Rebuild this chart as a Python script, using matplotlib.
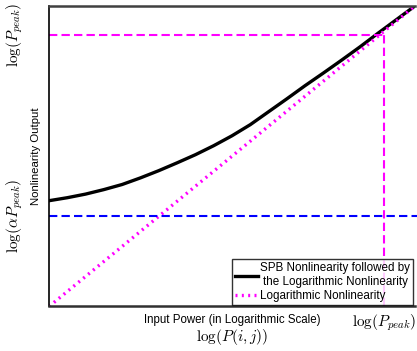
import matplotlib
matplotlib.use("Agg")
from matplotlib import pyplot as plt
import numpy as np

plt.rcParams['mathtext.fontset'] = 'cm'
plt.rcParams['font.family'] = ['Liberation Sans', 'DejaVu Sans']

# normalised log-input / log-output values
x_in = [0.0, 0.05, 0.1, 0.15, 0.2, 0.25, 0.3, 0.35, 0.4, 0.45, 0.5, 0.55,
        0.6, 0.65, 0.7, 0.75, 0.8, 0.85, 0.9, 0.95, 1.0]
y_spb = [0.352, 0.362, 0.374, 0.389, 0.406, 0.428, 0.452, 0.478, 0.505, 0.535, 0.568, 0.605,
         0.648, 0.691, 0.735, 0.777, 0.82, 0.864, 0.91, 0.955, 1.0]
x_log = [0.0, 1.0]
y_log = [0.0, 1.0]

p_peak_x = 0.915
p_peak_y = 0.903
alpha_p_peak_y = 0.30

fig = plt.figure(figsize=(4.17, 3.51), dpi=100)
ax = fig.add_axes([0.1175, 0.1268, 0.8775, 0.8562])

ax.plot(x_in, y_spb, color='black', lw=2.4, solid_joinstyle='round',
        label='SPB Nonlinearity followed by\nthe Logarithmic Nonlinearity')
ax.plot(x_log, y_log, color='#ff00ff', lw=2.4, linestyle=(0, (0.6, 1.3)),
        label='Logarithmic Nonlinearity')

ax.plot([0, p_peak_x], [p_peak_y, p_peak_y], color='#ff00ff', lw=1.5, linestyle=(0, (4, 2)))
ax.plot([p_peak_x, p_peak_x], [0, p_peak_y], color='#ff00ff', lw=1.5, linestyle=(0, (4, 2)))
ax.plot([0, 1.01], [alpha_p_peak_y, alpha_p_peak_y], color='#0000ff', lw=1.5,
        linestyle=(0, (4, 2)), clip_on=False)

ax.set_xlim(0, 1)
ax.set_ylim(0, 1)

ax.set_xticks([p_peak_x])
ax.set_xticklabels([r'$\log(P_{peak})$'], fontsize=11)
ax.set_yticks([alpha_p_peak_y, p_peak_y])
ax.set_yticklabels([r'$\log(\alpha P_{peak})$', r'$\log(P_{peak})$'],
                   rotation=90, va='center', fontsize=11)
ax.tick_params(axis='x', length=0, pad=4)
ax.tick_params(axis='y', length=0, pad=17)

ax.text(0.5, -0.045, 'Input Power (in Logarithmic Scale)', transform=ax.transAxes,
        ha='center', va='center', fontsize=8.3)
ax.text(0.5, -0.103, r'$\log(P(i,j))$', transform=ax.transAxes,
        ha='center', va='center', fontsize=11)
ax.set_ylabel('Nonlinearity Output', fontsize=8.2)
ax.yaxis.set_label_coords(-0.036, 0.5)
ax.yaxis.label.set_va('center')

ax.spines['right'].set_visible(False)
ax.spines['top'].set_color('#404040')
ax.spines['top'].set_linewidth(1.8)
ax.spines['bottom'].set_color('#303030')
ax.spines['bottom'].set_linewidth(1.8)
ax.spines['left'].set_linewidth(1.2)

leg = ax.legend(loc='lower right', fontsize=8.4, frameon=True, fancybox=False,
                edgecolor='black', handlelength=2.0, handletextpad=0.2,
                borderpad=0.25, labelspacing=0.15, borderaxespad=0.15)
leg.get_frame().set_linewidth(1.0)
for t in leg.get_texts():
    t.set_multialignment('center')

fig.savefig('out.png', dpi=100)
